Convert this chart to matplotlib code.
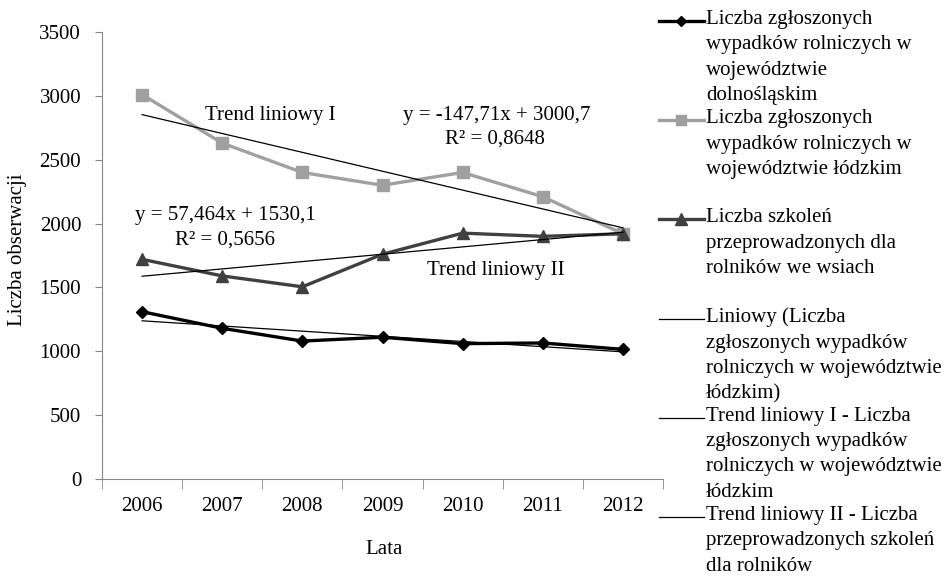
import numpy as np
import matplotlib.pyplot as plt
from matplotlib.lines import Line2D

plt.rcParams['font.family'] = ['Liberation Serif', 'DejaVu Serif']

lata = ['2006', '2007', '2008', '2009', '2010', '2011', '2012']
dolnoslaskie = [1310, 1180, 1080, 1110, 1060, 1065, 1015]
lodzkie = [3010, 2630, 2400, 2300, 2400, 2210, 1920]
szkolenia = [1720, 1590, 1505, 1760, 1925, 1900, 1920]

# wspolczynniki trendow podane na wykresie (x = 1..7)
trend1 = (-147.71, 3000.7)
trend2 = (57.464, 1530.1)

etykiety = [
    'Liczba zgłoszonych\nwypadków rolniczych w\nwojewództwie\ndolnośląskim',
    'Liczba zgłoszonych\nwypadków rolniczych w\nwojewództwie łódzkim',
    'Liczba szkoleń\nprzeprowadzonych dla\nrolników we wsiach',
    'Liniowy (Liczba\nzgłoszonych wypadków\nrolniczych w województwie\nłódzkim)',
    'Trend liniowy I - Liczba\nzgłoszonych wypadków\nrolniczych w województwie\nłódzkim',
    'Trend liniowy II - Liczba\nprzeprowadzonych szkoleń\ndla rolników',
]

W, H = 952, 576
fig = plt.figure(figsize=(W / 100, H / 100), dpi=100)
ax = fig.add_axes([102 / W, 1 - 479 / H, (663 - 102) / W, (479 - 32) / H])

x = np.arange(len(lata))
xn = x + 1

szary = '#a0a0a0'
ciemny = '#404040'

ax.plot(x, dolnoslaskie, color='black', lw=2.4, marker='D', ms=6.5, zorder=5)
ax.plot(x, lodzkie, color=szary, lw=2.4, marker='s', ms=8, zorder=4)
ax.plot(x, szkolenia, color=ciemny, lw=2.4, marker='^', ms=9, zorder=4)

a, b = np.polyfit(xn, dolnoslaskie, 1)
ax.plot(x, a * xn + b, color='black', lw=0.9, zorder=6)
ax.plot(x, trend1[0] * xn + trend1[1], color='black', lw=0.9, zorder=6)
ax.plot(x, trend2[0] * xn + trend2[1], color='black', lw=0.9, zorder=6)

fs = 15
ax.text(1.6, 2850, 'Trend liniowy I', ha='center', va='center', fontsize=fs)
ax.text(4.42, 2850, 'y = -147,71x + 3000,7', ha='center', va='center', fontsize=fs)
ax.text(4.4, 2660, 'R² = 0,8648', ha='center', va='center', fontsize=fs)
ax.text(1.04, 2067, 'y = 57,464x + 1530,1', ha='center', va='center', fontsize=fs)
ax.text(1.04, 1871, 'R² = 0,5656', ha='center', va='center', fontsize=fs)
ax.text(4.41, 1630, 'Trend liniowy II', ha='center', va='center', fontsize=fs)

ax.set_xlim(-0.5, len(lata) - 0.5)
ax.set_ylim(0, 3500)
ax.set_yticks(np.arange(0, 3501, 500))
ax.set_xticks(x)
ax.set_xticklabels(lata)
ax.set_xticks(np.arange(-0.5, len(lata)), minor=True)
ax.tick_params(axis='x', which='major', length=0, pad=13, labelsize=fs)
ax.tick_params(axis='x', which='minor', length=7, color='#868686', direction='out')
ax.tick_params(axis='y', length=5, color='#868686', pad=10, labelsize=fs)

for s in ['top', 'right']:
    ax.spines[s].set_visible(False)
for s in ['left', 'bottom']:
    ax.spines[s].set_color('#868686')

fig.text(18 / W, 1 - 250 / H, 'Liczba obserwacji', rotation=90,
         ha='center', va='center', fontsize=fs)
fig.text(384 / W, 1 - 550 / H, 'Lata', ha='center', va='center', fontsize=fs)

# legenda rysowana recznie (uchwyt przy pierwszej linii tekstu)
style = [
    dict(color='black', lw=2.4, marker='D', ms=5),
    dict(color=szary, lw=2.4, marker='s', ms=7),
    dict(color=ciemny, lw=2.4, marker='^', ms=8),
    dict(color='black', lw=0.9),
    dict(color='black', lw=0.9),
    dict(color='black', lw=0.9),
]
for i, (lab, st) in enumerate(zip(etykiety, style)):
    yc = 21 + 99.2 * i
    yf = 1 - yc / H
    fig.add_artist(Line2D([659 / W, 681 / W, 704 / W], [yf, yf, yf],
                          markevery=[1], transform=fig.transFigure, **st))
    fig.text(706 / W, 1 - (yc - 11) / H, lab, ha='left', va='top',
             fontsize=fs, linespacing=1.45)

fig.savefig('out.png', dpi=100)
